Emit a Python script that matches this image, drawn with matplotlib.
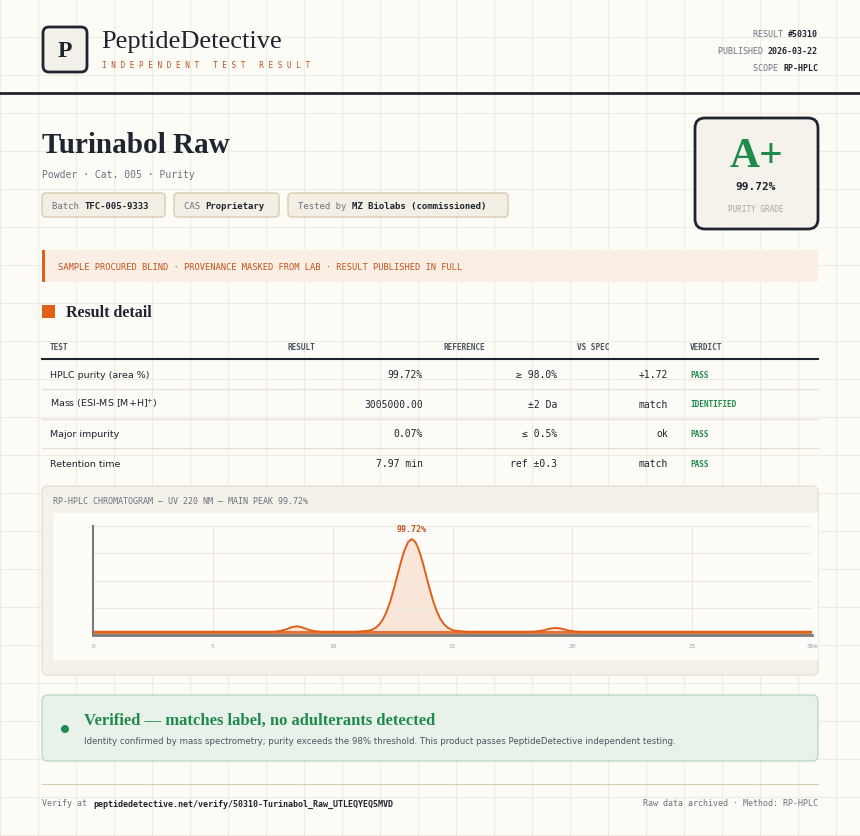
import matplotlib
matplotlib.use("Agg")
import matplotlib.pyplot as plt
from matplotlib.patches import FancyBboxPatch, Rectangle, Circle

# ---- data ----
result_id = "50310"
published = "2026-03-22"
scope = "RP-HPLC"
product = "Turinabol Raw"
purity = "99.72%"

test_names = ["HPLC purity (area %)", "Mass (ESI-MS [M+H]$^{+}$)", "Major impurity", "Retention time"]
test_results = ["99.72%", "3005000.00", "0.07%", "7.97 min"]
test_refs = ["\u2265 98.0%", "\u00b12 Da", "\u2264 0.5%", "ref \u00b10.3"]
test_vs = ["+1.72", "match", "ok", "match"]
test_verdicts = ["PASS", "IDENTIFIED", "PASS", "PASS"]

# chromatogram trace (minutes, % of full scale)
rt_min = [0, 7.5, 7.75, 8.0, 8.15, 8.3, 8.5, 8.7, 8.85, 9.0, 9.25, 9.5,
          11.0, 11.5, 11.65, 11.8, 11.95, 12.1, 12.25, 12.4, 12.55, 12.7, 12.85, 13.0, 13.15,
          13.3, 13.45, 13.6, 13.75, 13.9, 14.05, 14.2, 14.35, 14.5, 14.65, 14.8, 14.95, 15.1,
          15.6, 18.3, 18.55, 18.8, 18.95, 19.1, 19.3, 19.5, 19.65, 19.8, 20.05, 20.3, 30]
signal = [3, 3, 3.5, 4.8, 5.9, 7.2, 8, 7.2, 5.9, 4.8, 3.5, 3,
          3, 3.9, 5.0, 6.7, 9.8, 14.5, 21.4, 30.6, 42, 54.6, 67.2, 78, 85.4,
          88, 85.4, 78, 67.2, 54.6, 42, 30.6, 21.4, 14.5, 9.8, 6.7, 5.0, 3.9,
          3, 3, 3.4, 4.3, 5.2, 6.0, 6.5, 6.0, 5.2, 4.3, 3.4, 3, 3]
x_ticks = [0, 5, 10, 15, 20, 25, 30]
x_tick_labels = ["0", "5", "10", "15", "20", "25", "30m"]

BG = "#fcfbf6"
DARK = "#1e2430"
GRAY = "#6b7280"
ORANGE = "#e0601a"
ORANGE_TXT = "#c2521a"
GREEN = "#1f8a4c"
MONO = "DejaVu Sans Mono"
SERIF = "Liberation Serif"
SANS = "DejaVu Sans"

W, H = 860, 837
fig = plt.figure(figsize=(W / 100, H / 100), dpi=100, facecolor=BG)
ax = fig.add_axes([0, 0, 1, 1])
ax.set_xlim(0, W)
ax.set_ylim(H, 0)
ax.axis("off")

# background grid
for g in range(0, W, 38):
    ax.plot([g, g], [0, H], color="#eeebe2", lw=0.8, zorder=0)
for g in range(0, H, 38):
    ax.plot([0, W], [g, g], color="#eeebe2", lw=0.8, zorder=0)


def rbox(x0, y0, x1, y1, fc, ec, lw=1, r=4, z=1):
    ax.add_patch(FancyBboxPatch((x0, y0), x1 - x0, y1 - y0,
                                boxstyle=f"round,pad=0,rounding_size={r}",
                                fc=fc, ec=ec, lw=lw, zorder=z))


# header
rbox(43, 28, 87, 73, "#f3f1ea", DARK, lw=2, r=6)
ax.text(65, 51, "P", family=SERIF, weight="bold", size=17, color=DARK, ha="center", va="center")
ax.text(101, 42, "PeptideDetective", family=SERIF, size=19, color=DARK, va="center")
ax.text(102, 65, "I N D E P E N D E N T   T E S T   R E S U L T", family=MONO, size=5.6,
        color=ORANGE_TXT, va="center")
for yy, lab, val in [(34, "RESULT ", "#" + result_id), (51, "PUBLISHED ", published), (68, "SCOPE ", scope)]:
    ax.text(818, yy, val, family=MONO, weight="bold", size=6, color=DARK, ha="right", va="center")
    ax.text(818 - len(val) * 5.05, yy, lab, family=MONO, size=6, color=GRAY, ha="right", va="center")
ax.plot([0, W], [94, 94], color=DARK, lw=2)

# title block
ax.text(42, 145, product, family=SERIF, weight="bold", size=21, color=DARK, va="center")
ax.text(42, 175, "Powder \u00b7 Cat. 005 \u00b7 Purity", family=MONO, size=7, color=GRAY, va="center")
chips = [(42, 165, "Batch ", "TFC-005-9333"), (174, 279, "CAS ", "Proprietary"),
         (288, 508, "Tested by ", "MZ Biolabs (commissioned)")]
for x0, x1, lab, val in chips:
    rbox(x0, 194, x1, 218, "#f3efe4", "#d8ccb0", lw=1, r=4)
    ax.text(x0 + 10, 206, lab, family=MONO, size=6.5, color=GRAY, va="center")
    ax.text(x0 + 10 + len(lab) * 5.4, 206, val, family=MONO, weight="bold", size=6.5, color=DARK, va="center")

rbox(695, 119, 818, 230, "#f4f2ea", DARK, lw=2, r=10)
ax.text(756, 157, "A+", family=SERIF, weight="bold", size=30, color=GREEN, ha="center", va="center")
ax.text(756, 187, purity, family=MONO, weight="bold", size=8, color=DARK, ha="center", va="center")
ax.text(756, 209, "PURITY GRADE", family=MONO, size=5.5, color="#a8a8a0", ha="center", va="center")

# banner
ax.add_patch(Rectangle((42, 251), 776, 32, fc="#fbeee4", ec="none"))
ax.add_patch(Rectangle((42, 251), 3, 32, fc=ORANGE, ec="none"))
ax.text(58, 267, "SAMPLE PROCURED BLIND \u00b7 PROVENANCE MASKED FROM LAB \u00b7 RESULT PUBLISHED IN FULL",
        family=MONO, size=6.3, color=ORANGE_TXT, va="center")

# result detail table
ax.add_patch(Rectangle((42, 306), 13, 13, fc=ORANGE, ec="none"))
ax.text(66, 313, "Result detail", family=SERIF, weight="bold", size=11.5, color=DARK, va="center")
for xx, h in zip([50, 288, 443, 577, 690], ["TEST", "RESULT", "REFERENCE", "VS SPEC", "VERDICT"]):
    ax.text(xx, 347, h, family=MONO, weight="bold", size=5.6, color="#4b5563", va="center")
ax.plot([42, 818], [360, 360], color=DARK, lw=1.5)
for i in range(len(test_names)):
    yy = 375 + i * 29.7
    ax.text(50, yy, test_names[i], family=SANS, size=6.8, color=DARK, va="center")
    ax.text(423, yy, test_results[i], family=MONO, size=7, color=DARK, ha="right", va="center")
    ax.text(557, yy, test_refs[i], family=MONO, size=7, color=DARK, ha="right", va="center")
    ax.text(668, yy, test_vs[i], family=MONO, size=7, color=DARK, ha="right", va="center")
    ax.text(690, yy, test_verdicts[i], family=MONO, weight="bold", size=5.6, color=GREEN, va="center")
    if i < len(test_names) - 1:
        ax.plot([42, 818], [yy + 15, yy + 15], color="#e3dfd3", lw=0.8)

# chromatogram panel
rbox(42, 487, 818, 676, "#f4f1e9", "#e6e1d3", lw=1, r=6)
ax.text(53, 502, "RP-HPLC CHROMATOGRAM \u2014 UV 220 NM \u2014 MAIN PEAK 99.72%", family=MONO,
        size=6, color="#6b7280", va="center")
ax.add_patch(Rectangle((53, 514), 765, 147, fc="#fdfcf8", ec="none"))

cax = fig.add_axes([93 / W, 1 - 636 / H, (812 - 93) / W, (636 - 527) / H])
cax.set_facecolor("#fdfcf8")
cax.set_xlim(0, 30)
cax.set_ylim(0, 100)
cax.fill_between(rt_min, signal, 3, color="#f9e6d8", lw=0)
cax.plot(rt_min, signal, color=ORANGE, lw=1.4, solid_joinstyle="round")
cax.plot([0, 30], [3, 3], color=ORANGE, lw=2.2, alpha=0.85)
cax.set_xticks(x_ticks)
cax.set_xticklabels(x_tick_labels, family=MONO, size=4.5, color="#9ca3af")
cax.set_yticks([25, 50, 75, 100])
cax.set_yticklabels([])
cax.tick_params(length=0, pad=6)
cax.grid(color="#ece8dc", lw=0.8)
for s in ["top", "right"]:
    cax.spines[s].set_visible(False)
cax.spines["left"].set_color("#7a7a7a")
cax.spines["left"].set_linewidth(1.5)
cax.spines["bottom"].set_color("#7a7a7a")
cax.spines["bottom"].set_linewidth(2)
cax.text(13.3, 94, purity, family=MONO, weight="bold", size=6, color=ORANGE_TXT, ha="center", va="bottom")

# verified box
rbox(42, 696, 818, 762, "#e8f2ea", "#bcd9c4", lw=1, r=6)
ax.add_patch(Circle((65, 730), 4, fc=GREEN, ec="none"))
ax.text(84, 721, "Verified \u2014 matches label, no adulterants detected", family=SERIF,
        weight="bold", size=12, color=GREEN, va="center")
ax.text(84, 742, "Identity confirmed by mass spectrometry; purity exceeds the 98% threshold. "
        "This product passes PeptideDetective independent testing.", family=SANS, size=6.2,
        color="#4b5563", va="center")

# footer
ax.plot([42, 818], [785, 785], color="#d8ccb0", lw=0.8)
ax.text(42, 804, "Verify at", family=MONO, size=6, color=GRAY, va="center")
ax.text(93, 804, "peptidedetective.net/verify/50310-Turinabol_Raw_UTLEQYEQ5MVD", family=MONO,
        weight="bold", size=6, color=DARK, va="center")
ax.text(818, 804, "Raw data archived \u00b7 Method: RP-HPLC", family=MONO, size=6, color=GRAY,
        ha="right", va="center")

fig.savefig("out.png", dpi=100, facecolor=BG)
